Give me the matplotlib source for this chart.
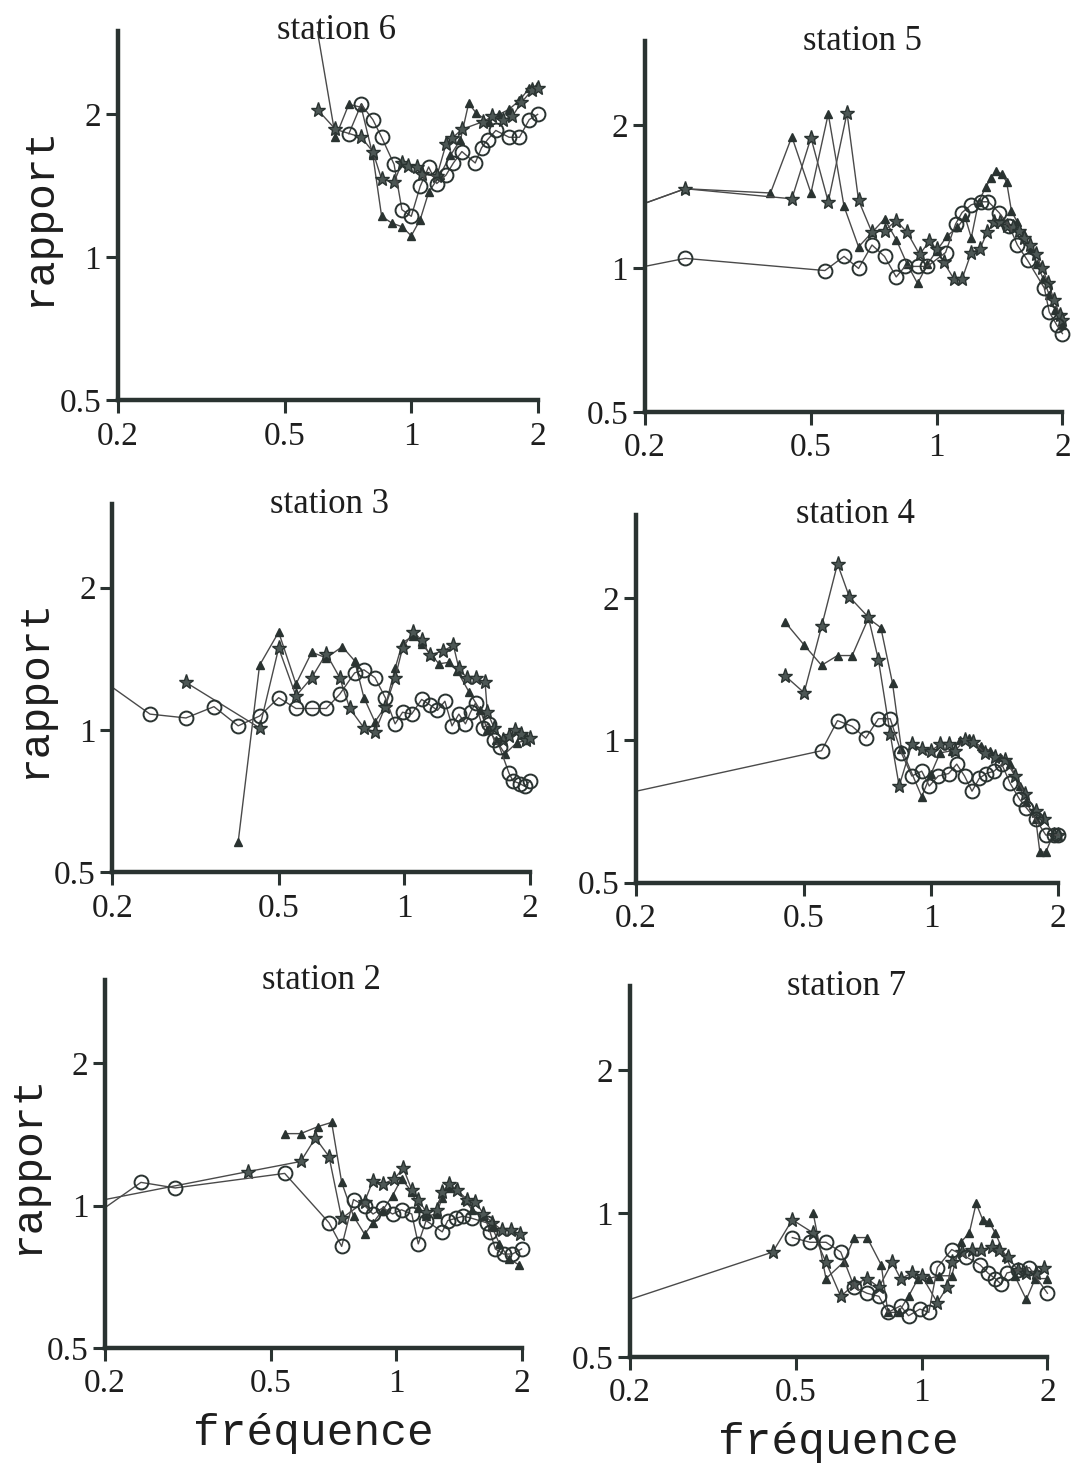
import matplotlib
matplotlib.use('Agg')
import matplotlib.pyplot as plt
from matplotlib.ticker import FixedLocator, FixedFormatter, NullLocator

# station 6
st6_circ_f = [0.71, 0.76, 0.81, 0.85, 0.91, 0.95, 1.00, 1.05, 1.10, 1.15, 1.21, 1.26, 1.32, 1.42, 1.47, 1.52, 1.59, 1.71, 1.81, 1.91, 2.0]
st6_circ_r = [1.82, 2.10, 1.95, 1.79, 1.57, 1.26, 1.22, 1.41, 1.55, 1.43, 1.49, 1.58, 1.67, 1.58, 1.70, 1.77, 1.85, 1.79, 1.79, 1.95, 2.0]
st6_tri_f = [0.59, 0.66, 0.71, 0.76, 0.81, 0.85, 0.90, 0.95, 1.00, 1.05, 1.10, 1.17, 1.24, 1.31, 1.37, 1.43, 1.53, 1.62, 1.71, 1.81, 1.91, 1.99]
st6_tri_r = [3.2, 1.79, 2.10, 2.07, 1.64, 1.22, 1.18, 1.16, 1.11, 1.20, 1.37, 1.49, 1.64, 1.77, 2.11, 2.01, 1.93, 2.0, 2.05, 2.14, 2.27, 2.3]
st6_star_f = [0.60, 0.66, 0.76, 0.81, 0.85, 0.91, 0.95, 0.98, 1.03, 1.06, 1.15, 1.21, 1.25, 1.32, 1.48, 1.56, 1.65, 1.74, 1.83, 1.94, 2.0]
st6_star_r = [2.04, 1.86, 1.79, 1.67, 1.46, 1.44, 1.58, 1.56, 1.55, 1.50, 1.48, 1.73, 1.78, 1.86, 1.93, 1.98, 1.95, 1.98, 2.12, 2.25, 2.27]

# station 5
st5_circ_f = [0.2, 0.25, 0.54, 0.60, 0.65, 0.70, 0.75, 0.80, 0.84, 0.90, 0.95, 1.05, 1.11, 1.15, 1.21, 1.28, 1.33, 1.41, 1.49, 1.56, 1.65, 1.81, 1.86, 1.94, 2.0]
st5_circ_r = [1.01, 1.05, 0.99, 1.06, 1.00, 1.12, 1.06, 0.96, 1.01, 1.01, 1.01, 1.08, 1.24, 1.31, 1.36, 1.38, 1.38, 1.31, 1.23, 1.12, 1.04, 0.91, 0.81, 0.76, 0.73]
st5_tri_f = [0.2, 0.25, 0.40, 0.45, 0.50, 0.55, 0.60, 0.65, 0.70, 0.75, 0.80, 0.85, 0.90, 0.95, 1.00, 1.06, 1.12, 1.17, 1.21, 1.26, 1.31, 1.35, 1.39, 1.43, 1.47, 1.51, 1.56, 1.62, 1.68, 1.74, 1.80, 1.86, 1.92, 2.0]
st5_tri_r = [1.37, 1.47, 1.44, 1.89, 1.44, 2.11, 1.35, 1.11, 1.19, 1.27, 1.15, 1.02, 0.93, 1.02, 1.09, 1.17, 1.22, 1.28, 1.16, 1.38, 1.48, 1.55, 1.60, 1.58, 1.52, 1.32, 1.25, 1.18, 1.10, 1.02, 0.95, 0.88, 0.82, 0.76]
st5_star_f = [0.2, 0.25, 0.45, 0.50, 0.55, 0.61, 0.65, 0.70, 0.75, 0.80, 0.85, 0.91, 0.96, 1.00, 1.04, 1.10, 1.15, 1.21, 1.27, 1.32, 1.37, 1.42, 1.47, 1.52, 1.57, 1.62, 1.67, 1.73, 1.79, 1.85, 1.91, 1.97, 2.0]
st5_star_r = [1.37, 1.47, 1.40, 1.88, 1.38, 2.12, 1.39, 1.19, 1.20, 1.26, 1.19, 1.07, 1.14, 1.10, 1.03, 0.95, 0.95, 1.08, 1.10, 1.19, 1.25, 1.25, 1.23, 1.22, 1.20, 1.16, 1.12, 1.07, 1.00, 0.93, 0.86, 0.80, 0.78]

# station 3
st3_circ_f = [0.2, 0.246, 0.30, 0.35, 0.40, 0.45, 0.50, 0.55, 0.60, 0.65, 0.70, 0.76, 0.80, 0.85, 0.90, 0.95, 0.99, 1.04, 1.10, 1.15, 1.20, 1.25, 1.30, 1.35, 1.40, 1.44, 1.48, 1.54, 1.59, 1.64, 1.69, 1.78, 1.82, 1.89, 1.94, 2.0]
st3_circ_r = [1.23, 1.08, 1.06, 1.12, 1.02, 1.07, 1.17, 1.11, 1.11, 1.11, 1.19, 1.32, 1.34, 1.29, 1.17, 1.03, 1.09, 1.08, 1.16, 1.13, 1.10, 1.15, 1.02, 1.08, 1.03, 1.09, 1.14, 1.01, 1.03, 0.95, 0.92, 0.81, 0.78, 0.77, 0.76, 0.78]
st3_tri_f = [0.40, 0.45, 0.50, 0.55, 0.60, 0.65, 0.71, 0.76, 0.80, 0.85, 0.90, 0.95, 0.99, 1.05, 1.10, 1.16, 1.21, 1.28, 1.34, 1.43, 1.52, 1.58, 1.66, 1.74, 1.86, 1.96]
st3_tri_r = [0.58, 1.37, 1.61, 1.25, 1.46, 1.42, 1.50, 1.40, 1.17, 1.04, 1.12, 1.35, 1.53, 1.58, 1.52, 1.44, 1.38, 1.39, 1.33, 1.20, 1.10, 1.00, 0.95, 0.89, 0.94, 0.95]
st3_star_f = [0.30, 0.45, 0.50, 0.55, 0.60, 0.65, 0.70, 0.74, 0.80, 0.85, 0.90, 0.95, 0.99, 1.05, 1.10, 1.15, 1.24, 1.31, 1.35, 1.41, 1.48, 1.56, 1.58, 1.64, 1.72, 1.78, 1.84, 1.90, 1.96, 2.0]
st3_star_r = [1.26, 1.01, 1.49, 1.18, 1.29, 1.45, 1.29, 1.11, 1.01, 0.99, 1.12, 1.29, 1.49, 1.61, 1.55, 1.44, 1.47, 1.51, 1.35, 1.29, 1.29, 1.26, 1.09, 1.01, 0.95, 0.97, 1.00, 0.98, 0.95, 0.96]

# station 4
st4_circ_f = [0.2, 0.55, 0.60, 0.65, 0.70, 0.75, 0.80, 0.85, 0.90, 0.95, 0.99, 1.04, 1.10, 1.15, 1.20, 1.25, 1.30, 1.35, 1.41, 1.47, 1.54, 1.62, 1.68, 1.77, 1.87, 1.95, 2.0]
st4_circ_r = [0.78, 0.95, 1.10, 1.07, 1.01, 1.11, 1.11, 0.94, 0.84, 0.86, 0.80, 0.84, 0.85, 0.89, 0.84, 0.78, 0.83, 0.85, 0.86, 0.89, 0.81, 0.75, 0.72, 0.68, 0.63, 0.63, 0.63]
st4_tri_f = [0.45, 0.50, 0.55, 0.60, 0.65, 0.71, 0.76, 0.81, 0.85, 0.95, 1.00, 1.05, 1.12, 1.17, 1.23, 1.31, 1.38, 1.46, 1.54, 1.62, 1.68, 1.77, 1.81, 1.87, 1.96]
st4_tri_r = [1.78, 1.59, 1.44, 1.51, 1.51, 1.81, 1.73, 1.32, 0.96, 0.76, 0.85, 0.94, 0.95, 1.00, 1.01, 0.97, 0.95, 0.92, 0.89, 0.80, 0.74, 0.68, 0.58, 0.58, 0.64]
st4_star_f = [0.45, 0.50, 0.55, 0.60, 0.64, 0.71, 0.75, 0.80, 0.84, 0.90, 0.95, 1.00, 1.05, 1.10, 1.14, 1.20, 1.26, 1.34, 1.42, 1.50, 1.58, 1.67, 1.77, 1.85, 1.96, 2.0]
st4_star_r = [1.37, 1.26, 1.74, 2.36, 2.01, 1.82, 1.48, 1.03, 0.80, 0.98, 0.96, 0.95, 0.98, 0.98, 0.95, 1.00, 0.99, 0.94, 0.92, 0.91, 0.84, 0.77, 0.71, 0.68, 0.63, 0.63]

# station 2
st2_circ_f = [0.2, 0.244, 0.295, 0.54, 0.69, 0.74, 0.79, 0.84, 0.88, 0.93, 0.98, 1.03, 1.09, 1.13, 1.18, 1.29, 1.33, 1.39, 1.45, 1.52, 1.65, 1.68, 1.73, 1.81, 1.90, 2.0]
st2_circ_r = [0.99, 1.12, 1.09, 1.17, 0.92, 0.82, 1.03, 1.00, 0.96, 0.99, 0.96, 0.98, 0.96, 0.83, 0.93, 0.88, 0.93, 0.94, 0.95, 0.94, 0.92, 0.88, 0.81, 0.79, 0.79, 0.81]
st2_tri_f = [0.54, 0.59, 0.65, 0.70, 0.74, 0.79, 0.84, 0.88, 0.93, 0.98, 1.03, 1.09, 1.13, 1.18, 1.25, 1.29, 1.33, 1.39, 1.46, 1.52, 1.62, 1.70, 1.77, 1.87, 1.97]
st2_tri_r = [1.42, 1.42, 1.47, 1.50, 1.12, 0.95, 0.87, 0.92, 0.98, 1.05, 1.14, 1.07, 0.99, 0.95, 0.96, 1.04, 1.09, 1.09, 1.03, 0.98, 0.95, 0.90, 0.83, 0.77, 0.75]
st2_star_f = [0.2, 0.44, 0.59, 0.64, 0.69, 0.74, 0.84, 0.88, 0.93, 0.99, 1.04, 1.09, 1.13, 1.18, 1.25, 1.29, 1.34, 1.40, 1.48, 1.55, 1.62, 1.70, 1.79, 1.89, 1.98]
st2_star_r = [1.03, 1.18, 1.24, 1.39, 1.27, 0.94, 1.02, 1.13, 1.11, 1.14, 1.20, 1.08, 1.03, 0.97, 0.98, 1.07, 1.11, 1.08, 1.03, 1.02, 0.96, 0.92, 0.89, 0.89, 0.87]

# station 7
st7_circ_f = [0.49, 0.54, 0.59, 0.64, 0.69, 0.74, 0.79, 0.83, 0.89, 0.93, 0.99, 1.04, 1.09, 1.18, 1.28, 1.38, 1.44, 1.50, 1.55, 1.60, 1.70, 1.81, 2.0]
st7_circ_r = [0.89, 0.87, 0.87, 0.83, 0.70, 0.68, 0.67, 0.62, 0.64, 0.61, 0.63, 0.62, 0.77, 0.84, 0.81, 0.78, 0.75, 0.73, 0.71, 0.75, 0.76, 0.77, 0.68]
st7_tri_f = [0.55, 0.59, 0.65, 0.69, 0.74, 0.80, 0.83, 0.88, 0.93, 0.98, 1.04, 1.10, 1.18, 1.24, 1.30, 1.35, 1.40, 1.45, 1.50, 1.59, 1.67, 1.78, 1.87, 2.0]
st7_tri_r = [1.00, 0.73, 0.79, 0.89, 0.89, 0.78, 0.62, 0.62, 0.67, 0.73, 0.73, 0.74, 0.74, 0.87, 0.91, 1.05, 0.97, 0.96, 0.91, 0.81, 0.74, 0.66, 0.73, 0.73]
st7_star_f = [0.2, 0.44, 0.49, 0.55, 0.59, 0.64, 0.69, 0.74, 0.79, 0.85, 0.89, 0.95, 1.00, 1.09, 1.15, 1.18, 1.25, 1.32, 1.39, 1.47, 1.53, 1.61, 1.70, 1.78, 1.88, 1.96]
st7_star_r = [0.66, 0.83, 0.97, 0.91, 0.79, 0.67, 0.71, 0.73, 0.70, 0.79, 0.73, 0.75, 0.74, 0.65, 0.70, 0.79, 0.83, 0.84, 0.84, 0.85, 0.84, 0.81, 0.76, 0.75, 0.75, 0.77]

titles = ['station 6', 'station 5', 'station 3', 'station 4', 'station 2', 'station 7']
x_ticks = [0.2, 0.5, 1, 2]
x_labels = ['0.2', '0.5', '1', '2']
y_ticks = [0.5, 1, 2]
y_labels = ['0.5', '1', '2']
x_left = 0.2
y_top = 3.0

panels = [
    (st6_circ_f, st6_circ_r, st6_tri_f, st6_tri_r, st6_star_f, st6_star_r),
    (st5_circ_f, st5_circ_r, st5_tri_f, st5_tri_r, st5_star_f, st5_star_r),
    (st3_circ_f, st3_circ_r, st3_tri_f, st3_tri_r, st3_star_f, st3_star_r),
    (st4_circ_f, st4_circ_r, st4_tri_f, st4_tri_r, st4_star_f, st4_star_r),
    (st2_circ_f, st2_circ_r, st2_tri_f, st2_tri_r, st2_star_f, st2_star_r),
    (st7_circ_f, st7_circ_r, st7_tri_f, st7_tri_r, st7_star_f, st7_star_r),
]

# axes rectangles (figure fractions)
rects = [
    [0.110, 0.727, 0.392, 0.252],
    [0.602, 0.719, 0.390, 0.253],
    [0.105, 0.405, 0.390, 0.251],
    [0.594, 0.398, 0.394, 0.251],
    [0.098, 0.0805, 0.389, 0.251],
    [0.588, 0.0744, 0.390, 0.253],
]

ink = '#2a3331'
line_c = '#4a4a4a'
text_c = '#1e1e1e'
serif = 'Liberation Serif'
mono = 'Liberation Mono'


def marks(f):
    # the curves come in from the left edge, no marker shown on the axis itself
    return [k for k, v in enumerate(f) if v > x_left]


fig = plt.figure(figsize=(10.71, 14.66), dpi=100)

for i, (rect, data, title) in enumerate(zip(rects, panels, titles)):
    cf, cr, tf, tr, sf, sr = data
    ax = fig.add_axes(rect)
    ax.set_xscale('log')
    ax.set_yscale('log')

    # a series that leaves the frame gets clipped, the rest may spill over the edges
    ax.plot(tf, tr, color=line_c, lw=1.0, marker='^', ms=5.5, markevery=marks(tf),
            mfc=ink, mec=ink, zorder=3, clip_on=max(tr) > y_top)
    ax.plot(sf, sr, color=line_c, lw=1.0, marker='*', ms=11, markevery=marks(sf),
            mfc='#4d5755', mec=ink, mew=1.0, zorder=4, clip_on=False)
    ax.plot(cf, cr, color=line_c, lw=1.0, marker='o', ms=10, markevery=marks(cf),
            mfc='none', mec=ink, mew=1.4, zorder=5, clip_on=False)

    ax.set_xlim(x_left, 2)
    ax.set_ylim(0.5, y_top)
    ax.xaxis.set_major_locator(FixedLocator(x_ticks))
    ax.xaxis.set_major_formatter(FixedFormatter(x_labels))
    ax.yaxis.set_major_locator(FixedLocator(y_ticks))
    ax.yaxis.set_major_formatter(FixedFormatter(y_labels))
    ax.xaxis.set_minor_locator(NullLocator())
    ax.yaxis.set_minor_locator(NullLocator())

    for side in ['top', 'right']:
        ax.spines[side].set_visible(False)
    for side in ['left', 'bottom']:
        ax.spines[side].set_linewidth(3.2)
        ax.spines[side].set_color(ink)
        ax.spines[side].set_zorder(6)
    ax.tick_params(direction='out', length=9, width=2.2, color=ink,
                   labelsize=24, labelcolor=text_c)
    ax.tick_params(axis='x', pad=6)
    ax.tick_params(axis='y', pad=3)
    for lab in ax.get_xticklabels() + ax.get_yticklabels():
        lab.set_fontfamily(serif)

    ax.text(0.52, 1.0, title, transform=ax.transAxes, ha='center', va='center',
            fontsize=25, family=serif, color=text_c)

    if i % 2 == 0:
        ax.set_ylabel('rapport', fontsize=31, family=mono, color=text_c, labelpad=0)
    if i >= 4:
        ax.set_xlabel('fréquence', fontsize=32, family=mono, color=text_c, labelpad=10)

fig.savefig('out.png', dpi=100, facecolor='white')
